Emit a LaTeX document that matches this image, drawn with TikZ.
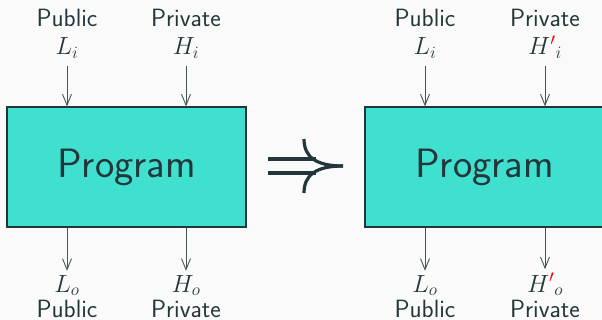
\documentclass[tikz,border=0pt]{standalone}
\usepackage{amsmath}
\usepackage{tikz}
\usetikzlibrary{arrows.meta,positioning}
\definecolor{bgcol}{HTML}{FAFAFA}
\definecolor{darkcol}{HTML}{23373B}
\definecolor{progcol}{HTML}{40E0D0}

\begin{document}
\begin{tikzpicture}[x=1pt,y=-1pt,>={Straight Barb[length=11pt,width=9pt]},
  every node/.style={text=darkcol,font=\sffamily\fontsize{25}{28}\selectfont},
  prog node/.style={fill=progcol,draw=darkcol,line width=1.3pt,inner sep=0pt,
    minimum width=239pt,minimum height=120pt,font=\sffamily\fontsize{41}{46}\selectfont},
  word node/.style={anchor=base,inner sep=0pt},
  flow/.style={->,draw=darkcol!85!white,line width=0.9pt}]

  \fill[bgcol] (0,0) rectangle (602,320);
  \useasboundingbox (0,0) rectangle (602,320);

  % left program
  \node[prog node] (p1) at (126.5,167) {Program};
  \node[word node] (pub1) at (67,27) {Public};
  \node[word node] (pri1) at (186,27) {Private};
  \node[word node] (li1) at (67,55) {$L_i$};
  \node[word node] (hi1) at (186,55) {$H_i$};
  \node[word node] (lo1) at (67,292) {$L_o$};
  \node[word node] (ho1) at (186,292) {$H_o$};
  \node[word node] (pubo1) at (67,317) {Public};
  \node[word node] (prio1) at (186,317) {Private};

  % right program
  \node[prog node] (p2) at (484.5,167) {Program};
  \node[word node] (pub2) at (425,27) {Public};
  \node[word node] (pri2) at (545,27) {Private};
  \node[word node] (li2) at (425,55) {$L_i$};
  \node[word node] (hi2) at (545,55) {$H{\color{red}'}{}_i$};
  \node[word node] (lo2) at (425,292) {$L_o$};
  \node[word node] (ho2) at (545,292) {$H{\color{red}'}{}_o$};
  \node[word node] (pubo2) at (425,317) {Public};
  \node[word node] (prio2) at (545,317) {Private};

  \foreach \a in {li1,hi1,li2,hi2}
    \draw[flow] ([yshift=-7pt]\a.south) -- (\a.south |- p1.north);
  \foreach \a in {lo1,ho1,lo2,ho2}
    \draw[flow] (\a.north |- p1.south) -- ([yshift=4pt]\a.north);

  % implies sign
  \begin{scope}[darkcol,line width=3.2pt]
    \draw (268,159) -- (316,159);
    \draw (268,173) -- (316,173);
    \draw (304,139) .. controls (304,157) and (316,166) .. (343,166);
    \draw (304,193) .. controls (304,175) and (316,166) .. (343,166);
  \end{scope}
\end{tikzpicture}
\end{document}
